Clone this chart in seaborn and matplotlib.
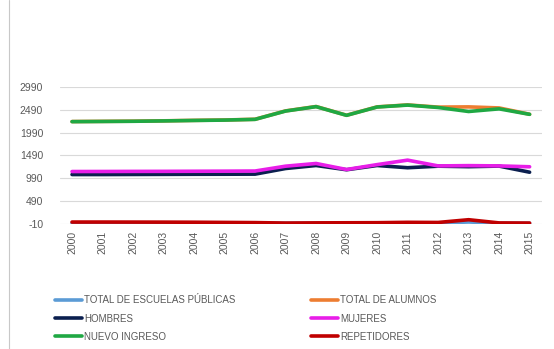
import matplotlib
matplotlib.use("Agg")
import matplotlib.pyplot as plt
import numpy as np
import pandas as pd
import seaborn as sns
from matplotlib.lines import Line2D

# datos
years = [2000, 2001, 2002, 2003, 2004, 2005, 2006, 2007,
         2008, 2009, 2010, 2011, 2012, 2013, 2014, 2015]
escuelas = [10, 10, 10, 10, 9, 9, 9, 8, 8, 8, 8, 9, 9, 35, 8, 8]
alumnos = [2232, 2236, 2240, 2248, 2258, 2266, 2282, 2465,
           2561, 2370, 2553, 2596, 2548, 2553, 2530, 2392]
hombres = [1073, 1073, 1075, 1077, 1079, 1080, 1082, 1205,
           1271, 1178, 1271, 1222, 1256, 1245, 1258, 1124]
mujeres = [1139, 1140, 1142, 1143, 1145, 1147, 1150, 1256,
           1315, 1183, 1290, 1388, 1262, 1268, 1262, 1243]
nuevo = [2230, 2234, 2238, 2246, 2256, 2264, 2280, 2462,
         2558, 2368, 2550, 2592, 2540, 2452, 2510, 2390]
repetidores = [34, 34, 33, 32, 30, 26, 22, 12, 16, 18, 20, 28, 25, 85, 15, 12]

series = ["TOTAL DE ESCUELAS PÚBLICAS", "TOTAL DE ALUMNOS", "HOMBRES",
          "MUJERES", "NUEVO INGRESO", "REPETIDORES"]
colors = ["#5B9BD5", "#ED7D31", "#0B1F4F", "#E81EE8", "#1FA843", "#C00000"]

df = pd.DataFrame({
    "year": years * 6,
    "value": escuelas + alumnos + hombres + mujeres + nuevo + repetidores,
    "serie": np.repeat(series, len(years)),
})

sns.set_style("white")
plt.rcParams["font.family"] = ["Liberation Sans", "DejaVu Sans"]
plt.rcParams["axes.unicode_minus"] = False

fig = plt.figure(figsize=(5.54, 3.49), dpi=100)
ax = fig.add_axes([0.108, 0.358, 0.87, 0.393])

sns.lineplot(data=df, x="year", y="value", hue="serie", hue_order=series,
             palette=colors, linewidth=2.6, ax=ax, legend=False)

ax.set_xlim(1999.6, 2015.4)
ax.set_ylim(-10, 2990)
ax.set_yticks(np.arange(-10, 2991, 500))
ax.set_xticks(years)
ax.set_xticklabels([str(y) for y in years], rotation=90)
ax.tick_params(axis="both", labelsize=7.5, colors="#595959", length=0)
ax.tick_params(axis="y", pad=12)
ax.tick_params(axis="x", pad=5)
ax.grid(axis="y", color="#D9D9D9", linewidth=0.8)
ax.set_axisbelow(True)
for s in ax.spines.values():
    s.set_visible(False)
ax.set_xlabel("")
ax.set_ylabel("")

handles = [Line2D([], [], color=c, linewidth=2.6) for c in colors]
order = [0, 2, 4, 1, 3, 5]
leg = fig.legend([handles[i] for i in order], [series[i] for i in order],
                 loc="upper left", bbox_to_anchor=(0.092, 0.165), ncol=2,
                 frameon=False, fontsize=7, handlelength=2.8,
                 handletextpad=0.2, columnspacing=7.8, labelspacing=0.85,
                 borderaxespad=0)
for t in leg.get_texts():
    t.set_color("#595959")

# borde del area del grafico
fig.add_artist(Line2D([0.016, 0.016], [0, 1], transform=fig.transFigure,
                      color="#C8C8C8", linewidth=0.8))

fig.savefig("out.png", dpi=100)
